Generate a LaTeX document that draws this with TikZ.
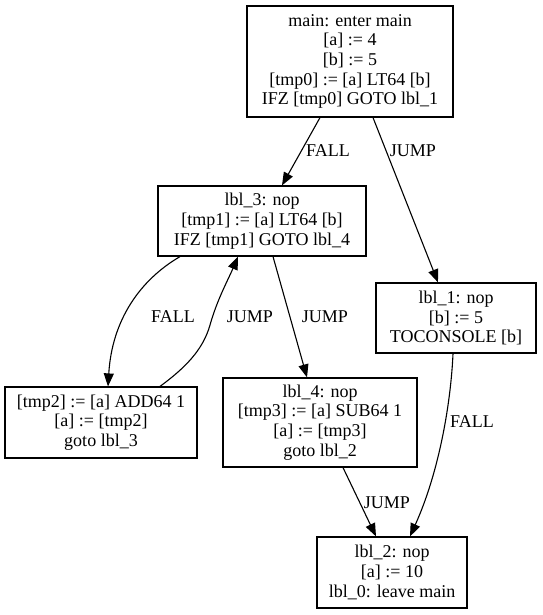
\documentclass[tikz,border=0pt]{standalone}
\usepackage{fontspec}
\setmainfont{Liberation Serif}
\usetikzlibrary{arrows.meta}
\begin{document}
\begin{tikzpicture}[x=1pt,y=-1pt,
  font=\fontsize{18}{19.7}\selectfont,
  blk/.style={draw, line width=1.2pt, align=center, inner sep=0pt},
  edge/.style={draw, line width=1.1pt, -{Triangle[length=13pt,width=10pt]}},
  lbl/.style={inner sep=0pt}]
\useasboundingbox (0,0) rectangle (542,615);
\node[blk, minimum width=206pt, minimum height=111pt] (main) at (350,61.5)
  {main: enter main\\{}[a] := 4\\{}[b] := 5\\{}[tmp0] := [a] LT64 [b]\\IFZ [tmp0] GOTO lbl\_1};
\node[blk, minimum width=208pt, minimum height=70pt] (lbl3) at (262,221)
  {lbl\_3: nop\\{}[tmp1] := [a] LT64 [b]\\IFZ [tmp1] GOTO lbl\_4};
\node[blk, minimum width=160pt, minimum height=70pt] (lbl1) at (456,318)
  {lbl\_1: nop\\{}[b] := 5\\TOCONSOLE [b]};
\node[blk, minimum width=192pt, minimum height=71pt] (tmp2) at (101,422.5)
  {[tmp2] := [a] ADD64 1\\{}[a] := [tmp2]\\goto lbl\_3};
\node[blk, minimum width=194pt, minimum height=89pt] (lbl4) at (320,422.5)
  {lbl\_4: nop\\{}[tmp3] := [a] SUB64 1\\{}[a] := [tmp3]\\goto lbl\_2};
\node[blk, minimum width=150pt, minimum height=71pt] (lbl2) at (392,572.5)
  {lbl\_2: nop\\{}[a] := 10\\lbl\_0: leave main};

\path[edge] ([xshift=-30pt]main.south) -- ([xshift=20pt]lbl3.north);
\path[edge] ([xshift=23pt]main.south) -- ([xshift=-18pt]lbl1.north);
\path[edge] ([xshift=-82pt]lbl3.south) .. controls (140,280) and (112,320) .. ([xshift=7pt]tmp2.north);
\coordinate (mid) at (210,325);
\path[edge] ([xshift=59pt]tmp2.north) .. controls (185,368) and (203,350) .. (mid)
  .. controls (217,300) and (228,280) .. ([xshift=-24pt]lbl3.south);
\path[edge] ([xshift=11pt]lbl3.south) -- ([xshift=-13pt]lbl4.north);
\path[edge] ([xshift=23pt]lbl4.south) -- ([xshift=-16pt]lbl2.north);
\path[edge] ([xshift=-3pt]lbl1.south) .. controls (451,400) and (440,470) .. ([xshift=18pt]lbl2.north);

\node[lbl] (l1) at (328,151) {FALL};
\node[lbl] (l2) at (413,151) {JUMP};
\node[lbl] (l3) at (173,317) {FALL};
\node[lbl] (l4) at (250,317) {JUMP};
\node[lbl] (l5) at (325,317) {JUMP};
\node[lbl] (l6) at (387,503) {JUMP};
\node[lbl] (l7) at (472,422) {FALL};
\end{tikzpicture}
\end{document}
